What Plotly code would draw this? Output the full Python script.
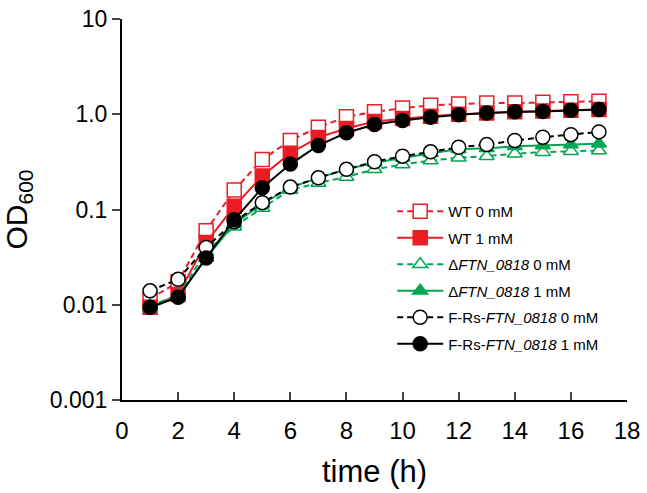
import plotly.graph_objects as go

time_h = list(range(1, 18))

wt_0mM = [0.0115, 0.0174, 0.060, 0.160, 0.335, 0.53, 0.73, 0.94, 1.06, 1.16, 1.24, 1.28, 1.31, 1.31, 1.34, 1.35, 1.37]
wt_1mM = [0.0094, 0.0128, 0.045, 0.108, 0.225, 0.39, 0.57, 0.71, 0.84, 0.90, 0.95, 1.00, 1.03, 1.06, 1.08, 1.10, 1.12]
dftn_0mM = [0.0098, 0.0125, 0.036, 0.066, 0.104, 0.160, 0.190, 0.220, 0.264, 0.297, 0.327, 0.350, 0.363, 0.385, 0.400, 0.410, 0.417]
dftn_1mM = [0.0092, 0.0122, 0.031, 0.071, 0.115, 0.170, 0.215, 0.264, 0.310, 0.350, 0.390, 0.430, 0.440, 0.460, 0.470, 0.480, 0.490]
frs_0mM = [0.0140, 0.0185, 0.040, 0.0745, 0.118, 0.172, 0.215, 0.264, 0.317, 0.363, 0.403, 0.450, 0.480, 0.530, 0.574, 0.610, 0.653]
frs_1mM = [0.0094, 0.0120, 0.031, 0.078, 0.169, 0.30, 0.47, 0.64, 0.78, 0.86, 0.93, 0.99, 1.03, 1.06, 1.07, 1.10, 1.12]

y_tickvals = [0.001, 0.01, 0.1, 1, 10]
y_ticktext = ["0.001", "0.01", "0.1", "1.0", "10"]
x_tickvals = list(range(0, 19, 2))

RED = "#ed1c24"
GREEN = "#00a651"
BLACK = "#000000"
DASH = "6px,4px"

series = [
    ("WT 0 mM", wt_0mM, RED, DASH, "square-open", 14),
    ("WT 1 mM", wt_1mM, RED, "solid", "square", 14),
    ("Δ<i>FTN_0818</i> 0 mM", dftn_0mM, GREEN, DASH, "triangle-up-open", 13),
    ("Δ<i>FTN_0818</i> 1 mM", dftn_1mM, GREEN, "solid", "triangle-up", 13),
    ("F-Rs-<i>FTN_0818</i> 0 mM", frs_0mM, BLACK, DASH, "circle-open", 14),
    ("F-Rs-<i>FTN_0818</i> 1 mM", frs_1mM, BLACK, "solid", "circle", 14),
]

fig = go.Figure()
for i, (name, vals, color, dash, symbol, size) in enumerate(series):
    is_open = symbol.endswith("-open")
    marker = dict(
        symbol=symbol.replace("-open", ""),
        size=size,
        color="white" if is_open else color,
        line=dict(color=color, width=1.5),
    )
    fig.add_trace(go.Scatter(
        x=time_h, y=vals, name=name, mode="lines+markers",
        line=dict(color=color, width=2, dash=dash),
        marker=marker, legendgroup=f"g{i}",
    ))

fig.update_layout(
    width=647, height=493,
    margin=dict(l=122, r=20, t=19, b=93),
    plot_bgcolor="white", paper_bgcolor="white",
    font=dict(family="Liberation Sans, Arial", color="black"),
    legend=dict(
        x=0.535, y=0.538, xanchor="left", yanchor="top",
        font=dict(size=15), bgcolor="rgba(0,0,0,0)",
        tracegroupgap=4, itemwidth=46,
    ),
    xaxis=dict(
        range=[0, 18], tickvals=x_tickvals, ticks="inside", ticklen=8, tickwidth=2,
        showline=True, linecolor="black", linewidth=2, showgrid=False, zeroline=False,
        tickfont=dict(size=24), ticklabelstandoff=8, automargin=False,
        title=dict(text="time (h)", font=dict(size=31), standoff=18),
    ),
    yaxis=dict(
        type="log", range=[-3, 1], tickvals=y_tickvals, ticktext=y_ticktext,
        ticks="outside", ticklen=8, tickwidth=2,
        showline=True, linecolor="black", linewidth=2, showgrid=False, zeroline=False,
        tickfont=dict(size=23), automargin=False,
        title=dict(text="OD<sub>600</sub>", font=dict(size=30), standoff=14),
    ),
)

fig.write_html("out.html", config={"displayModeBar": False},
               post_script="document.body.style.margin='0';")
